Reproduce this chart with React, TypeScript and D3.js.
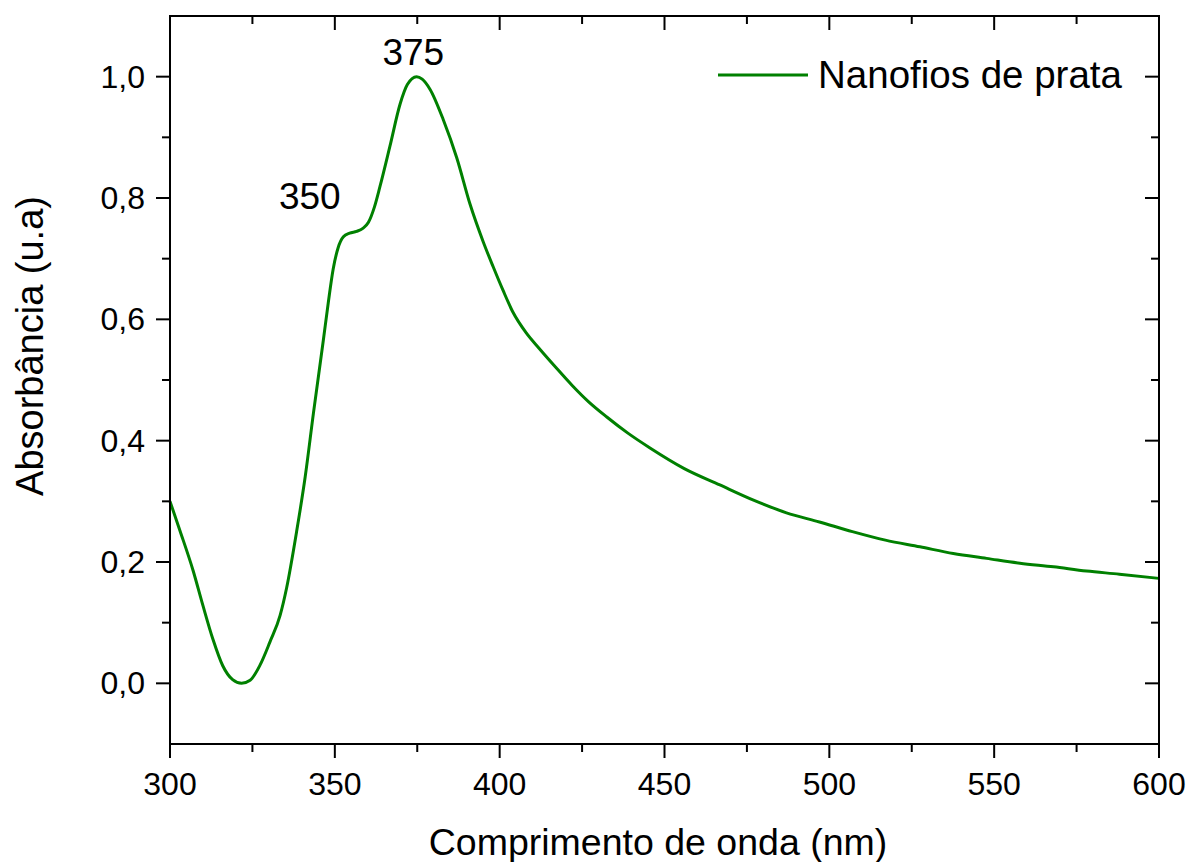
import React from "react";
import * as d3 from "d3";

const wavelengths = [300, 303, 307, 310, 313, 316, 319, 321.7, 324.3, 327.3, 330.3, 333.4, 335.4, 338.4, 341, 343.5, 346.5, 348, 349.5, 351, 352.6, 354.5, 356.6, 358.5, 360.2, 362, 363.7, 366.7, 369.8, 372, 374.8, 376.5, 378.9, 382.9, 387, 391, 395, 398, 401, 404, 408, 412, 417, 422, 427, 432.5, 439, 445.6, 456, 466.8, 477, 487, 497, 507, 517, 527.5, 537.6, 547.7, 557.8, 568, 578, 588, 600];
const absorbance = [0.300, 0.252, 0.186, 0.128, 0.073, 0.029, 0.006, 0.0, 0.005, 0.030, 0.068, 0.112, 0.158, 0.250, 0.340, 0.445, 0.565, 0.627, 0.683, 0.718, 0.736, 0.742, 0.745, 0.750, 0.760, 0.785, 0.819, 0.885, 0.955, 0.987, 1.0, 0.996, 0.979, 0.929, 0.866, 0.790, 0.728, 0.687, 0.648, 0.612, 0.578, 0.552, 0.521, 0.491, 0.464, 0.439, 0.412, 0.388, 0.354, 0.327, 0.302, 0.281, 0.266, 0.250, 0.236, 0.225, 0.214, 0.206, 0.198, 0.192, 0.185, 0.180, 0.173];

const xMajorTicks = [300, 350, 400, 450, 500, 550, 600];
const xMinorTicks = [325, 375, 425, 475, 525, 575];
const yMajorTicks = [0.0, 0.2, 0.4, 0.6, 0.8, 1.0];
const yMinorTicks = [0.1, 0.3, 0.5, 0.7, 0.9];
const peakLabels = [
  { text: "375", wl: 375, a: 1.0, dx: -4, dy: -12 },
  { text: "350", wl: 350, a: 0.745, dx: -25, dy: -22 },
];
const seriesName = "Nanofios de prata";
const xTitle = "Comprimento de onda (nm)";
const yTitle = "Absorbância (u.a)";

const W = 1189, H = 862;
const L = 170, R = 1159, T = 16, B = 744;
const GREEN = "#008000";
const FONT = "Liberation Sans, Arial, sans-serif";

export default function App() {
  const x = d3.scaleLinear().domain([300, 600]).range([L, R]);
  const y = d3.scaleLinear().domain([-0.1, 1.1]).range([B, T]);
  const data = wavelengths.map((w, i) => [w, absorbance[i]] as [number, number]);
  const line = d3.line<[number, number]>().x(d => x(d[0])).y(d => y(d[1])).curve(d3.curveMonotoneX);
  const fmt = (v: number) => v.toFixed(1).replace(".", ",");
  const MAJ = 14, MIN = 8;

  return (
    <svg width={W} height={H} style={{ position: "absolute", left: 0, top: 0, display: "block", background: "#fff" }} fontFamily={FONT}>
      <rect x={0} y={0} width={W} height={H} fill="#fff" />
      <path d={line(data) || ""} fill="none" stroke={GREEN} strokeWidth={3} strokeLinejoin="round" />
      <rect x={L} y={T} width={R - L} height={B - T} fill="none" stroke="#000" strokeWidth={2} />
      {xMajorTicks.map(t => (
        <g key={"xM" + t}>
          <line x1={x(t)} x2={x(t)} y1={B} y2={B + MAJ} stroke="#000" strokeWidth={2} />
          <line x1={x(t)} x2={x(t)} y1={T} y2={T + MAJ} stroke="#000" strokeWidth={2} />
          <text x={x(t)} y={795} textAnchor="middle" fontSize={32} fill="#000">{t}</text>
        </g>
      ))}
      {xMinorTicks.map(t => (
        <g key={"xm" + t}>
          <line x1={x(t)} x2={x(t)} y1={B} y2={B + MIN} stroke="#000" strokeWidth={2} />
          <line x1={x(t)} x2={x(t)} y1={T} y2={T + MIN} stroke="#000" strokeWidth={2} />
        </g>
      ))}
      {yMajorTicks.map(t => (
        <g key={"yM" + t}>
          <line x1={L - MAJ} x2={L} y1={y(t)} y2={y(t)} stroke="#000" strokeWidth={2} />
          <line x1={R - MAJ} x2={R} y1={y(t)} y2={y(t)} stroke="#000" strokeWidth={2} />
          <text x={145} y={y(t) + 11} textAnchor="end" fontSize={32} fill="#000">{fmt(t)}</text>
        </g>
      ))}
      {yMinorTicks.map(t => (
        <g key={"ym" + t}>
          <line x1={L - MIN} x2={L} y1={y(t)} y2={y(t)} stroke="#000" strokeWidth={2} />
          <line x1={R - MIN} x2={R} y1={y(t)} y2={y(t)} stroke="#000" strokeWidth={2} />
        </g>
      ))}
      {peakLabels.map(p => (
        <text key={p.text} x={x(p.wl) + p.dx} y={y(p.a) + p.dy} textAnchor="middle" fontSize={37} fill="#000">{p.text}</text>
      ))}
      <line x1={718} x2={808} y1={75} y2={75} stroke={GREEN} strokeWidth={3} />
      <text x={818} y={88} fontSize={38.5} fill="#000">{seriesName}</text>
      <text x={658} y={855} textAnchor="middle" fontSize={37.5} fill="#000">{xTitle}</text>
      <text transform={`translate(43, 346) rotate(-90)`} textAnchor="middle" fontSize={38} fill="#000">{yTitle}</text>
    </svg>
  );
}
